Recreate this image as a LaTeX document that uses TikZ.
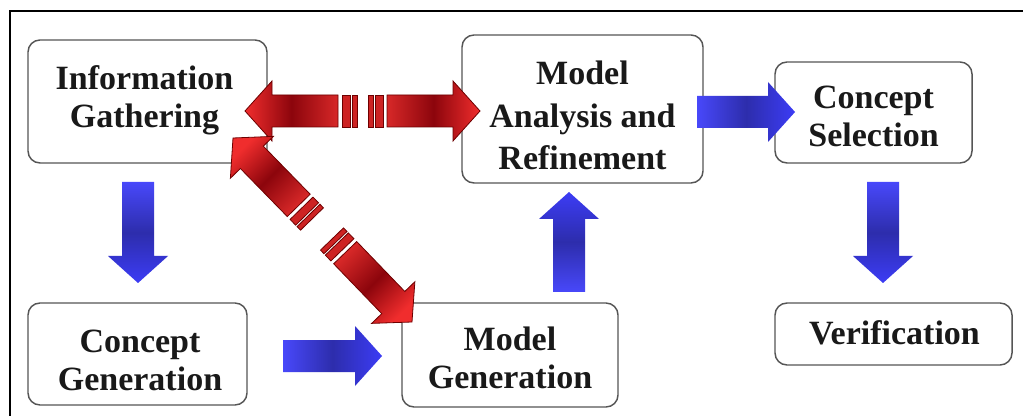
\documentclass[tikz,border=0pt]{standalone}
\usepackage{fontspec}
\setmainfont{Liberation Serif}
\usetikzlibrary{calc}
\definecolor{boxline}{RGB}{85,85,85}
\definecolor{txt}{RGB}{25,25,25}
\definecolor{bluetail}{RGB}{72,72,250}
\definecolor{bluehead}{RGB}{60,60,245}
\definecolor{bluedark}{RGB}{45,45,172}
\definecolor{redtail}{RGB}{215,40,40}
\definecolor{redhead}{RGB}{240,45,45}
\definecolor{reddark}{RGB}{140,5,12}
\definecolor{redline}{RGB}{110,0,0}
\definecolor{stripefill}{RGB}{205,35,35}
\newcommand{\boxfont}{\fontsize{25.5}{28.5}\selectfont\bfseries}
\newcommand{\boxfontwide}{\fontsize{25.5}{32}\selectfont\bfseries}
% fat arrow from #1 (tail) to #2 (tip) with style #3
\newcommand{\fatarrow}[3]{%
  \coordinate (hb) at ($(#2)!20.25pt!(#1)$);
  \path[#3] ($(#1)!12pt!90:(#2)$) -- ($(hb)!12pt!-90:(#1)$) -- ($(hb)!22.5pt!-90:(#1)$) -- (#2) -- ($(hb)!22.5pt!90:(#1)$) -- ($(hb)!12pt!90:(#1)$) -- ($(#1)!12pt!-90:(#2)$) -- cycle;}
\newcommand{\stripebar}[4]{%
  \coordinate (sa) at ($(#1)!#3!(#2)$);
  \coordinate (sb) at ($(#1)!#4!(#2)$);
  \path[stripebox] ($(sa)!12pt!90:(#2)$) -- ($(sb)!12pt!90:(#2)$) -- ($(sb)!12pt!-90:(#2)$) -- ($(sa)!12pt!-90:(#2)$) -- cycle;}
\newcommand{\stripedarrow}[3]{%
  \stripebar{#1}{#2}{0pt}{3.75pt}
  \stripebar{#1}{#2}{5.25pt}{11.25pt}
  \coordinate (bs) at ($(#1)!14.25pt!(#2)$);
  \fatarrow{bs}{#2}{redshade=#3}}
\begin{document}
\begin{tikzpicture}[x=0.75pt,y=-0.75pt,
  box/.style={draw=boxline, line width=1.1pt, rounded corners=9pt, fill=white, inner sep=0pt},
  boxtext/.style={align=center, inner sep=0pt, text=txt, font=\boxfont},
  blueshade/.style={top color=bluetail, bottom color=bluehead, middle color=bluedark, shading angle=#1},
  redshade/.style={top color=redtail, bottom color=redhead, middle color=reddark, shading angle=#1, draw=redline, line width=0.6pt},
  stripebox/.style={fill=stripefill, draw=redline, line width=0.6pt}]
\useasboundingbox (0,0) rectangle (1023,416);
\fill[white] (0,0) rectangle (1023,416);
\draw[line width=1.9pt, black] (10,420) -- (10,11) -- (1030,11);

% boxes
\node[box, minimum width=179.25pt, minimum height=92.25pt] (ig) at (147.5,101.5) {};
\node[box, minimum width=180.75pt, minimum height=111pt] (ma) at (582.5,109) {};
\node[box, minimum width=147.75pt, minimum height=75.75pt] (cs) at (873.5,112.5) {};
\node[box, minimum width=177.75pt, minimum height=46.5pt] (vf) at (893.5,334) {};
\node[box, minimum width=164.25pt, minimum height=76.5pt] (cg) at (137.5,354) {};
\node[box, minimum width=162pt, minimum height=78pt] (mg) at (510,355) {};

% texts
\node[boxtext] (igt) at (144.5,100.5) {Information\\Gathering};
\node[boxtext, font=\boxfontwide] (mat) at (582.5,115.5) {Model\\Analysis and\\Refinement};
\node[boxtext] (cst) at (873.5,116.5) {Concept\\Selection};
\node[boxtext] (vft) at (894.5,333) {Verification};
\node[boxtext] (cgt) at (140,360) {Concept\\Generation};
\node[boxtext] (mgt) at (510,358) {Model\\Generation};

% arrow end points
\coordinate (b1s) at (138,182); \coordinate (b1e) at (138,283);
\coordinate (b2s) at (283,356); \coordinate (b2e) at (382,356);
\coordinate (b3s) at (569,292); \coordinate (b3e) at (569,192);
\coordinate (b4s) at (697,112); \coordinate (b4e) at (795,112);
\coordinate (b5s) at (883,182); \coordinate (b5e) at (883,283);
\coordinate (r1s) at (357,111); \coordinate (r1e) at (245,111);
\coordinate (r2s) at (368,111); \coordinate (r2e) at (480,111);
\coordinate (r3s) at (312,219); \coordinate (r3e) at (233,138);
\coordinate (r4s) at (332,239); \coordinate (r4e) at (412,322);

% blue arrows
\fatarrow{b1s}{b1e}{blueshade=0}
\fatarrow{b2s}{b2e}{blueshade=90}
\fatarrow{b3s}{b3e}{blueshade=180}
\fatarrow{b4s}{b4e}{blueshade=90}
\fatarrow{b5s}{b5e}{blueshade=0}

% red striped arrows
\stripedarrow{r1s}{r1e}{-90}
\stripedarrow{r2s}{r2e}{90}
\stripedarrow{r3s}{r3e}{-135}
\stripedarrow{r4s}{r4e}{45}
\end{tikzpicture}
\end{document}
